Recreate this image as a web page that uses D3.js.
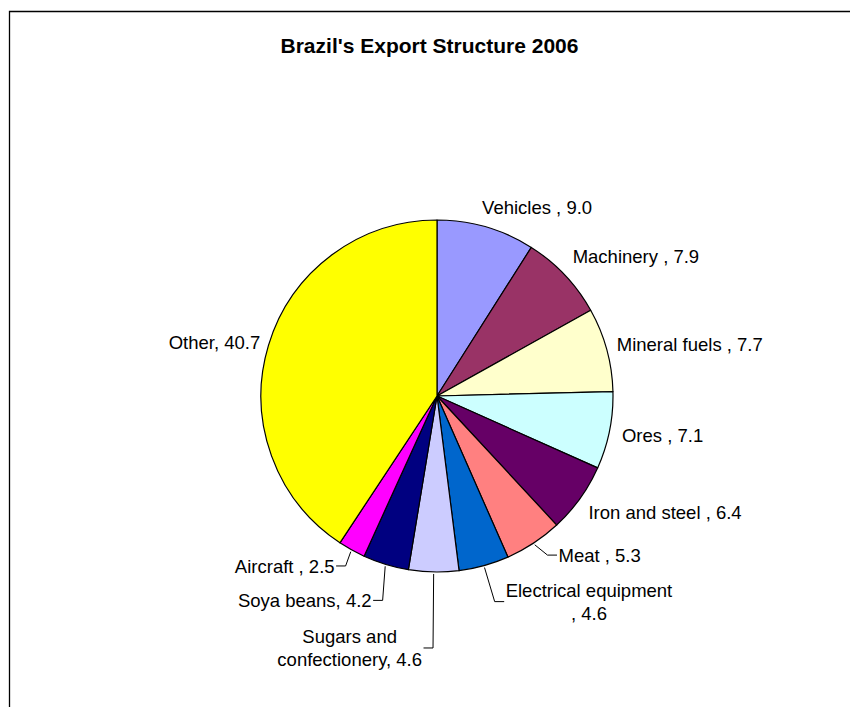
<!DOCTYPE html>
<html>
<head>
<meta charset="utf-8">
<script src="https://cdn.jsdelivr.net/npm/d3@7"></script>
<style>
  html, body { margin: 0; padding: 0; background: #fff; }
  svg { display: block; }
  text { font-family: "Liberation Sans", Arial, sans-serif; fill: #000; }
</style>
</head>
<body>
<svg id="chart" width="850" height="707"></svg>
<script>
// Brazil's export structure, 2006 (share of total exports, %)
const categories = ["Vehicles ", "Machinery ", "Mineral fuels ", "Ores ", "Iron and steel ",
  "Meat ", "Electrical equipment ", "Sugars and confectionery", "Soya beans", "Aircraft ", "Other"];
const shares = [9.0, 7.9, 7.7, 7.1, 6.4, 5.3, 4.6, 4.6, 4.2, 2.5, 40.7];
const sliceColors = ["#9999FF", "#993366", "#FFFFCC", "#CCFFFF", "#660066",
  "#FF8080", "#0066CC", "#CCCCFF", "#000080", "#FF00FF", "#FFFF00"];
const title = "Brazil's Export Structure 2006";

// Label placement: offset of each label's centre from its slice's rim point,
// and whether a leader line joins the two.
const labelOffsets = [[51, -20], [71, -19], [83, -5], [53, 5], [85, 14],
  [66, 12], [105, 36], [-84, 76], [-81, 36], [-67, 16], [-54, -3]];
const hasLeader = [false, false, false, false, false, true, true, true, true, true, false];

const svg = d3.select("#chart");
const W = 850, H = 707;
const cx = 437, cy = 396, radius = 176;
const fontSize = 18.5, lineH = 22.5, wrapWidth = 172;

// chart area frame (open to the right and bottom edges)
svg.append("path")
  .attr("d", `M9.5,${H} V11.5 H${W}`)
  .attr("fill", "none").attr("stroke", "#000").attr("stroke-width", 1.3);

svg.append("text")
  .attr("x", (9 + W) / 2).attr("y", 53)
  .attr("text-anchor", "middle")
  .style("font-size", "21px").style("font-weight", "bold")
  .text(title);

const data = categories.map((c, i) => ({ name: c, value: shares[i], i }));
const color = d3.scaleOrdinal(categories, sliceColors);
const pie = d3.pie().value(d => d.value).sort(null);
const arcs = pie(data);
const arc = d3.arc().innerRadius(0).outerRadius(radius);

const g = svg.append("g").attr("transform", `translate(${cx},${cy})`);
g.selectAll("path.slice").data(arcs).join("path")
  .attr("class", "slice")
  .attr("d", arc)
  .attr("fill", d => color(d.data.name))
  .attr("stroke", "#000").attr("stroke-width", 1.2).attr("stroke-linejoin", "round");

// greedy word wrap using measured text widths
const measurer = svg.append("text").style("font-size", fontSize + "px").attr("visibility", "hidden");
function textWidth(s) { measurer.text(s); return measurer.node().getComputedTextLength(); }
function wrap(s) {
  const words = s.split(/\s+/).filter(w => w.length);
  const lines = [];
  let cur = "";
  words.forEach(w => {
    const trial = cur ? cur + " " + w : w;
    if (cur && textWidth(trial) > wrapWidth) { lines.push(cur); cur = w; }
    else cur = trial;
  });
  if (cur) lines.push(cur);
  return lines;
}

const labelLayer = svg.append("g");
arcs.forEach((a, k) => {
  const mid = (a.startAngle + a.endAngle) / 2;
  const rim = [cx + radius * Math.sin(mid), cy - radius * Math.cos(mid)];
  const bx = rim[0] + labelOffsets[k][0];
  const by = rim[1] + labelOffsets[k][1];
  const label = a.data.name + ", " + a.data.value.toFixed(1);
  const lines = wrap(label);
  const widest = d3.max(lines, textWidth);
  const firstBase = by - (lines.length - 1) * lineH / 2 + fontSize * 0.36;

  const t = labelLayer.append("text")
    .attr("text-anchor", "middle")
    .style("font-size", fontSize + "px");
  lines.forEach((ln, j) => {
    t.append("tspan").attr("x", bx).attr("y", firstBase + j * lineH).text(ln);
  });

  if (hasLeader[k]) {
    const side = Math.sin(mid) >= 0 ? 1 : -1;
    const edgeX = bx - side * widest / 2;
    const start = [cx + (radius + 2) * Math.sin(mid), cy - (radius + 2) * Math.cos(mid)];
    const pts = [start, [edgeX - side * 11, by], [edgeX - side * 1.5, by]];
    labelLayer.append("path")
      .attr("d", d3.line()(pts))
      .attr("fill", "none").attr("stroke", "#000").attr("stroke-width", 1);
  }
});
measurer.remove();
</script>
</body>
</html>
